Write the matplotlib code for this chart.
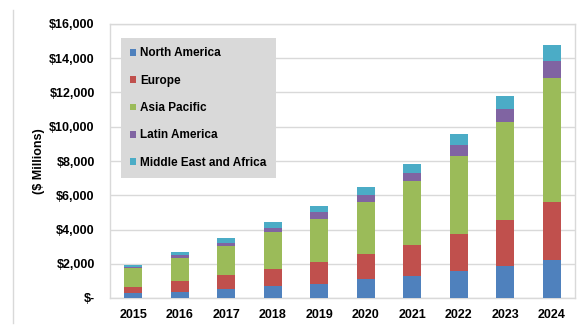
import matplotlib
matplotlib.use("Agg")
import matplotlib.pyplot as plt
from matplotlib.lines import Line2D
from matplotlib.patches import Patch
import numpy as np

# --------------------------------------------------------------------- data
years = ["2015", "2016", "2017", "2018", "2019", "2020", "2021", "2022", "2023", "2024"]
regions = ["North America", "Europe", "Asia Pacific", "Latin America", "Middle East and Africa"]
colors = ["#4F81BD", "#C0504D", "#9BBB59", "#8064A2", "#4BACC6"]

north_america = [270, 370, 545, 675, 840, 1110, 1265, 1555, 1850, 2240]
europe = [390, 640, 810, 1045, 1280, 1480, 1850, 2200, 2720, 3385]
asia_pacific = [1090, 1350, 1710, 2110, 2510, 3035, 3735, 4555, 5720, 7240]
latin_america = [60, 140, 170, 230, 370, 410, 467, 643, 760, 995]
mea = [120, 190, 285, 350, 390, 465, 525, 642, 760, 930]
series = [north_america, europe, asia_pacific, latin_america, mea]

y_ticks = list(range(0, 16001, 2000))
y_labels = ["$-"] + [f"${v:,}" for v in y_ticks[1:]]

# --------------------------------------------------------------------- plot
plt.rcParams["font.family"] = ["Liberation Sans", "DejaVu Sans"]
plt.rcParams["font.weight"] = "bold"

W, H = 585, 336
fig = plt.figure(figsize=(W / 100, H / 100), dpi=100)
ax = fig.add_axes([110 / W, (H - 298) / H, 465 / W, 274 / H])

x = np.arange(len(years))
bottom = np.zeros(len(years))
for name, vals, c in zip(regions, series, colors):
    ax.bar(x, vals, width=0.39, bottom=bottom, color=c, label=name, zorder=3)
    bottom += np.array(vals)

ax.set_xlim(-0.5, len(years) - 0.5)
ax.set_ylim(0, 16000)
ax.set_xticks(x)
ax.set_xticklabels(years, fontsize=9, fontweight="bold")
ax.set_yticks(y_ticks)
ax.set_yticklabels(y_labels, fontsize=9, fontweight="bold")
ax.tick_params(axis="both", length=0)
ax.tick_params(axis="y", pad=11)
ax.tick_params(axis="x", pad=8)
ax.grid(axis="y", color="#d9d9d9", lw=1, zorder=0)
for sp in ax.spines.values():
    sp.set_color("#d9d9d9")
    sp.set_linewidth(1)
ax.set_ylabel("($ Millions)", fontsize=9, fontweight="bold", labelpad=3)

handles = [Patch(facecolor=c, edgecolor="none") for c in colors]
leg = ax.legend(handles, regions, loc="upper left",
                bbox_to_anchor=((121 - 110) / 465, (298 - 38) / 274),
                borderaxespad=0, prop={"weight": "bold", "size": 8.5},
                handlelength=0.5, handleheight=0.5, handletextpad=0.35,
                labelspacing=1.3, borderpad=0.8, fancybox=False,
                facecolor="#d9d9d9", edgecolor="none", framealpha=1)
leg.set_zorder(5)

# outer chart border (left edge)
fig.add_artist(Line2D([13 / W, 13 / W], [1 - 10 / H, 1 - 323 / H],
                      color="#d9d9d9", lw=1))

fig.savefig("out.png", dpi=100)
